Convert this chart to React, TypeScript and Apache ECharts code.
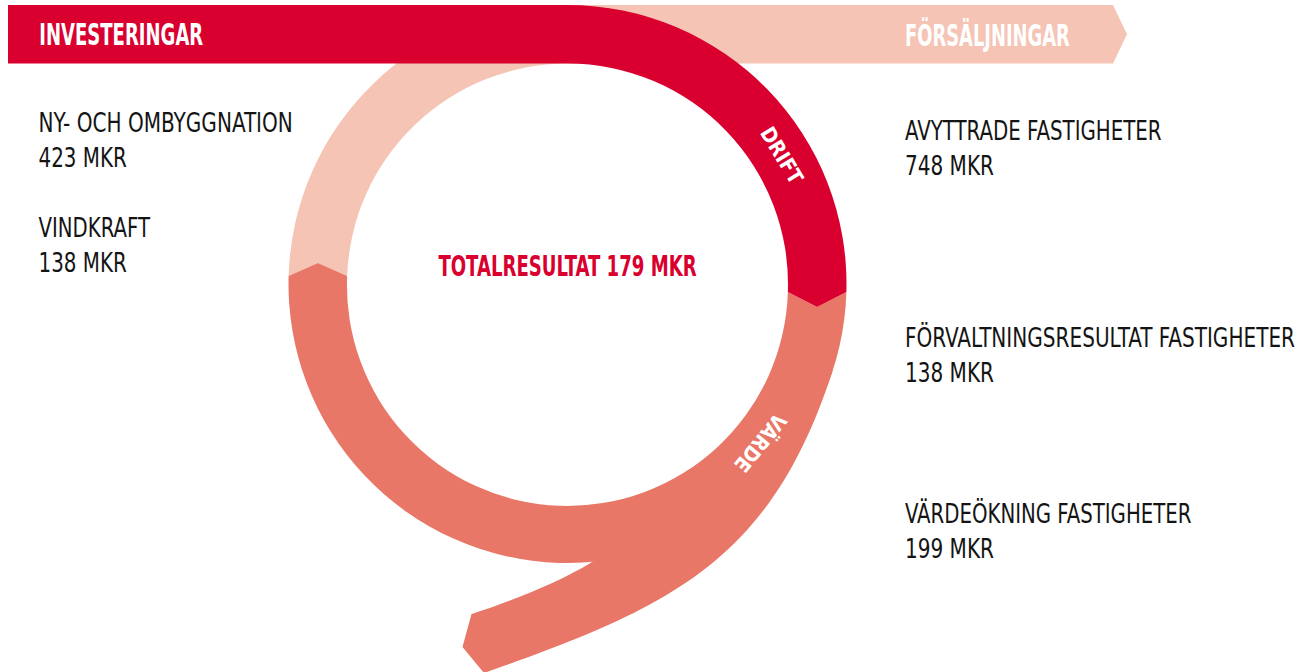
import React, { useEffect, useRef } from "react";
import * as echarts from "echarts";

// ---- Content ----
const flowTitles = ["INVESTERINGAR", "FÖRSÄLJNINGAR"];
const ringLabels = ["DRIFT", "VÄRDE"];
const investLabels = ["NY- OCH OMBYGGNATION", "VINDKRAFT"];
const investValues = [423, 138];
const resultLabels = [
  "AVYTTRADE FASTIGHETER",
  "FÖRVALTNINGSRESULTAT FASTIGHETER",
  "VÄRDEÖKNING FASTIGHETER",
];
const resultValues = [748, 138, 199];
const totalLabel = "TOTALRESULTAT";
const totalValue = 179;
const unit = "MKR";

// ---- Layout / style ----
const W = 1301;
const H = 672;
const FONT =
  "'Liberation Sans Narrow', 'DejaVu Sans Condensed', 'Liberation Sans', sans-serif";
const C_DRIFT = "#d9002f";
const C_SALE = "#f5c4b4";
const C_VALUE = "#e87767";
const C_TEXT = "#141414";

const cx = 567.5;
const cy = 284;
const R = 279;
const r = 220.5;
const bandTop = cy - R;
const bandBottom = cy - r;
const bandLeft = 8;
const arrowBodyEnd = 1113;
const arrowTip = 1127;
const rightCut = 292;
const rightTip = 307;
const leftCut = 276;
const leftTip = 263;

const f = (n: number) => n.toFixed(2);
const ox = (y: number) => Math.sqrt(R * R - (y - cy) * (y - cy));
const ix = (y: number) => Math.sqrt(r * r - (y - cy) * (y - cy));

function buildPaths() {
  const oR = cx + ox(rightCut);
  const iR = cx + ix(rightCut);
  const tR = (oR + iR) / 2;
  const oL = cx - ox(leftCut);
  const iL = cx - ix(leftCut);
  const tL = (oL + iL) / 2;
  const dark = `M ${bandLeft} ${bandTop} L ${cx} ${bandTop} A ${R} ${R} 0 0 1 ${f(oR)} ${rightCut} L ${f(tR)} ${rightTip} L ${f(iR)} ${rightCut} A ${r} ${r} 0 0 0 ${cx} ${bandBottom} L ${bandLeft} ${bandBottom} Z`;
  const pink = `M ${f(oL)} ${leftCut} A ${R} ${R} 0 0 1 ${cx} ${bandTop} L ${arrowBodyEnd} ${bandTop} L ${arrowTip} ${f((bandTop + bandBottom) / 2)} L ${arrowBodyEnd} ${bandBottom} L ${cx} ${bandBottom} A ${r} ${r} 0 0 0 ${f(iL)} ${leftCut} L ${f(tL)} ${leftTip} Z`;
  const salmon = `M ${f(oR)} ${rightCut} A ${R} ${R} 0 1 1 ${f(oL)} ${leftCut} L ${f(tL)} ${leftTip} L ${f(iL)} ${leftCut} A ${r} ${r} 0 1 0 ${f(iR)} ${rightCut} L ${f(tR)} ${rightTip} Z`;
  const a0 = (18 * Math.PI) / 180;
  const p0x = cx + R * Math.cos(a0);
  const p0y = cy + R * Math.sin(a0);
  const p1x = p0x - 200 * Math.sin(a0);
  const p1y = p0y + 200 * Math.cos(a0);
  const tail = `M ${f(p0x)} ${f(p0y)} C ${f(p1x)} ${f(p1y)} 672.8 607 484 673 L 462.5 647 L 471.5 614 C 500 605 555 585 592 562 Z`;
  return { dark, pink, salmon, tail };
}

let measureCtx: CanvasRenderingContext2D | null = null;
function fitScale(text: string, weight: string, size: number, target: number) {
  if (!measureCtx) measureCtx = document.createElement("canvas").getContext("2d");
  if (!measureCtx) return 1;
  measureCtx.font = `${weight} ${size}px ${FONT}`;
  const w = measureCtx.measureText(text).width;
  return w > 0 ? target / w : 1;
}

function textEl(
  text: string,
  x: number,
  y: number,
  o: { size: number; weight: string; fill: string; width: number; align?: string; rotation?: number }
) {
  const align = o.align || "left";
  return {
    type: "text",
    x,
    y,
    rotation: o.rotation || 0,
    scaleX: fitScale(text, o.weight, o.size, o.width),
    scaleY: 1,
    silent: true,
    z: 10,
    style: {
      text,
      x: 0,
      y: 0,
      fill: o.fill,
      fontSize: o.size,
      fontWeight: o.weight,
      fontFamily: FONT,
      textAlign: align,
      align,
      textVerticalAlign: "middle",
      verticalAlign: "middle",
    },
  };
}

export default function App() {
  const ref = useRef<HTMLDivElement>(null);

  useEffect(() => {
    document.body.style.margin = "0";
    if (!ref.current) return;
    const paths = buildPaths();
    echarts.graphic.registerShape("flowDark", echarts.graphic.extendPath(paths.dark, {}));
    echarts.graphic.registerShape("flowPink", echarts.graphic.extendPath(paths.pink, {}));
    echarts.graphic.registerShape("flowSalmon", echarts.graphic.extendPath(paths.salmon, {}));
    echarts.graphic.registerShape("flowTail", echarts.graphic.extendPath(paths.tail, {}));

    const chart = echarts.init(ref.current, undefined, { renderer: "svg" });

    const mid = (R + r) / 2;
    const ringAngles = [-31, 39.5];
    const ringWidths = [62, 68];
    const ringTexts = ringLabels.map((t, i) => {
      const a = (ringAngles[i] * Math.PI) / 180;
      return textEl(t, cx + mid * Math.cos(a), cy + mid * Math.sin(a), {
        size: 21,
        weight: "bold",
        fill: "#ffffff",
        width: ringWidths[i],
        align: "center",
        rotation: -(a + Math.PI / 2),
      });
    });

    const investY = [122.5, 228];
    const investW = [254.5, 111.5];
    const investTexts: any[] = [];
    investLabels.forEach((t, i) => {
      investTexts.push(textEl(t, 38.5, investY[i], { size: 27, weight: "normal", fill: C_TEXT, width: investW[i] }));
      investTexts.push(
        textEl(`${investValues[i]} ${unit}`, 38.5, investY[i] + 35, { size: 27, weight: "normal", fill: C_TEXT, width: 88.4 })
      );
    });

    const resultY = [131, 338, 514];
    const resultW = [256.7, 390, 286.7];
    const resultTexts: any[] = [];
    resultLabels.forEach((t, i) => {
      resultTexts.push(textEl(t, 905, resultY[i], { size: 27, weight: "normal", fill: C_TEXT, width: resultW[i] }));
      resultTexts.push(
        textEl(`${resultValues[i]} ${unit}`, 905, resultY[i] + 34.5, { size: 27, weight: "normal", fill: C_TEXT, width: 89 })
      );
    });

    chart.setOption({
      animation: false,
      backgroundColor: "#ffffff",
      series: [],
      graphic: {
        elements: [
          { type: "flowPink", x: 0, y: 0, silent: true, style: { fill: C_SALE } },
          { type: "flowSalmon", x: 0, y: 0, silent: true, style: { fill: C_VALUE } },
          { type: "flowTail", x: 0, y: 0, silent: true, style: { fill: C_VALUE } },
          { type: "flowDark", x: 0, y: 0, silent: true, style: { fill: C_DRIFT } },
          textEl(flowTitles[0], 39.3, 34.2, { size: 30, weight: "bold", fill: "#ffffff", width: 164 }),
          textEl(flowTitles[1], 905, 35, { size: 30, weight: "bold", fill: "#ffffff", width: 165 }),
          ...ringTexts,
          textEl(`${totalLabel} ${totalValue} ${unit}`, cx, 266, {
            size: 29,
            weight: "bold",
            fill: C_DRIFT,
            width: 258.3,
            align: "center",
          }),
          ...investTexts,
          ...resultTexts,
        ],
      },
    });

    return () => {
      chart.dispose();
    };
  }, []);

  return <div ref={ref} style={{ width: W, height: H }} />;
}
